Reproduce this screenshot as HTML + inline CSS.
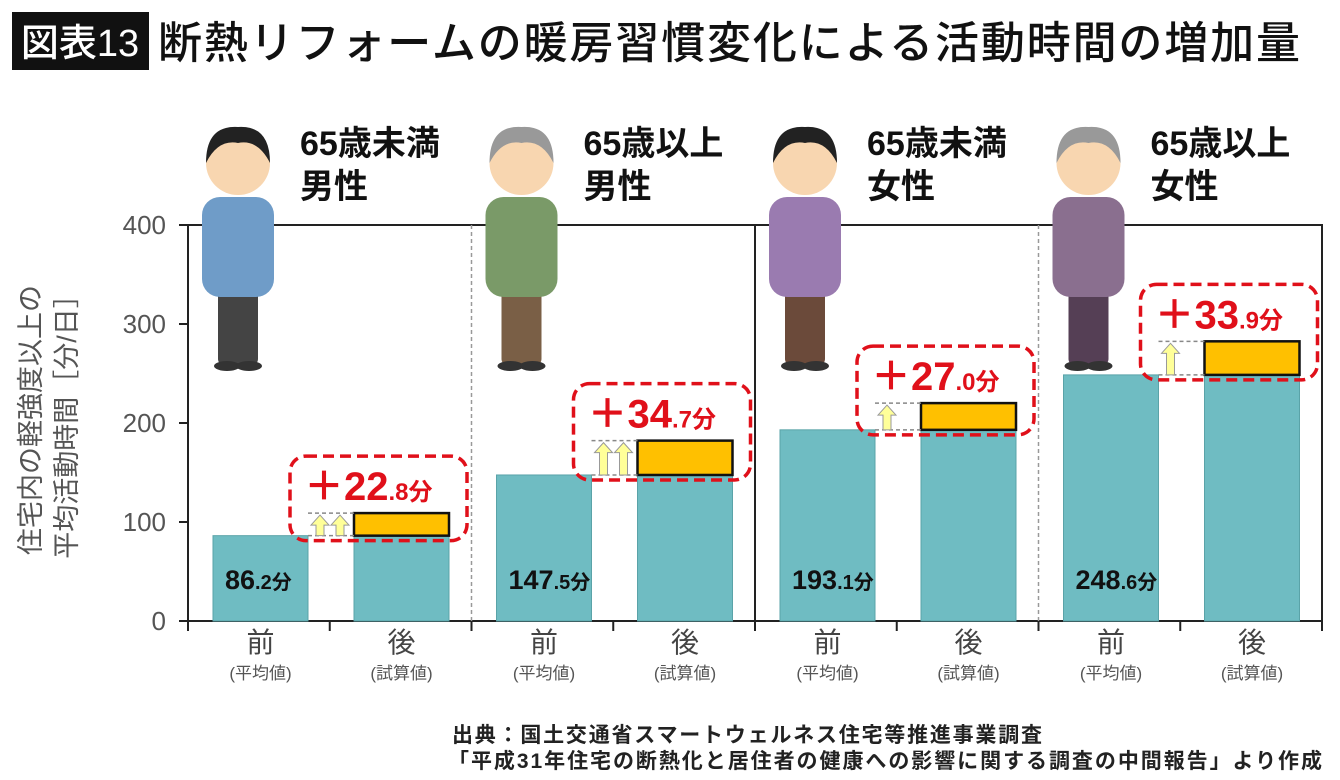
<!DOCTYPE html>
<html><head><meta charset="utf-8">
<style>
body{margin:0;background:#fff;}
svg{display:block;font-family:"Liberation Sans","Noto Sans CJK JP",sans-serif;}
</style></head><body>
<svg id="c" width="1340" height="780" viewBox="0 0 1340 780">
<rect x="12" y="12" width="137" height="58" fill="#111"/>
<text x="80" y="56" font-size="38" fill="#fff" text-anchor="middle" font-weight="500">図表13</text>
<text x="158" y="58" font-size="44" fill="#111" font-weight="500" textLength="1142" lengthAdjust="spacing">断熱リフォームの暖房習慣変化による活動時間の増加量</text>
<g id="ylab">
<text transform="translate(40,420) rotate(-90)" font-size="27" fill="#555" text-anchor="middle">住宅内の軽強度以上の</text>
<text transform="translate(76,420) rotate(-90)" font-size="27" fill="#555" text-anchor="middle">平均活動時間［分/日］</text>
</g>
<g id="marks"></g>
<text x="452" y="742" font-size="21" font-weight="bold" fill="#222" textLength="590" lengthAdjust="spacing">出典：国土交通省スマートウェルネス住宅等推進事業調査</text>
<text x="448" y="768" font-size="21" font-weight="bold" fill="#222" textLength="874" lengthAdjust="spacing">「平成31年住宅の断熱化と居住者の健康への影響に関する調査の中間報告」より作成</text>
</svg>
<script>
const groups=['65歳未満|男性','65歳以上|男性','65歳未満|女性','65歳以上|女性'];
const beforeVals=[86.2,147.5,193.1,248.6];
const increaseVals=[22.8,34.7,27.0,33.9];
const yTicks=[0,100,200,300,400];
const arrowCounts=[2,2,1,1];
const personColors=[['#6f9cc8','#444','#222'],['#7a9a68','#7a5f46','#999'],['#9a7bb0','#6b4a3a','#222'],['#8a6f8f','#553f55','#999']];

const NS='http://www.w3.org/2000/svg';
const X0=188,X1=1322,Y0=621,YT=225;
const y=v=>Y0-(v/400)*(Y0-YT);
const gw=(X1-X0)/groups.length;
const g=document.getElementById('marks');
function el(t,a,p){const e=document.createElementNS(NS,t);for(const k in a)e.setAttribute(k,a[k]);(p||g).appendChild(e);return e;}

let fr=el('rect',{x:X0,y:YT,width:X1-X0,height:Y0-YT,fill:'none',stroke:'#222','stroke-width':2});


yTicks.forEach(t=>{
  let tk=el('line',{x1:X0-9,x2:X0,y1:y(t),y2:y(t),stroke:'#222','stroke-width':2});
  
  
  let tl=el('text',{x:X0-22,y:y(t)+9,'font-size':26,fill:'#555','text-anchor':'end'});
  tl.textContent=t;
  
  
});

groups.forEach((name,i)=>{
  const gx=X0+gw*i;
  if(i>0){
    let d=el('line',{x1:gx,x2:gx,y1:YT,y2:Y0,stroke:i==2?'#222':'#999','stroke-width':i==2?2:1.5,'stroke-dasharray':i==2?'':'4 3'});
    
    
  }
  [gx, gx+gw/2, gx+gw].forEach(tx=>{
    let t=el('line',{x1:tx,x2:tx,y1:Y0,y2:Y0+10,stroke:'#222','stroke-width':2});
    
    
  });
  const bx1=gx+25,bx2=gx+166,bw=95;
  const b=beforeVals[i],inc=increaseVals[i];
  let r1=el('rect',{x:bx1,y:y(b),width:bw,height:Y0-y(b),fill:'#6fbcc2',stroke:'#5aa3a8'});
  
  
  let r2=el('rect',{x:bx2,y:y(b),width:bw,height:Y0-y(b),fill:'#6fbcc2',stroke:'#5aa3a8'});
  
  
  let o=el('rect',{x:bx2,y:y(b+inc),width:bw,height:y(b)-y(b+inc),fill:'#ffc000',stroke:'#111','stroke-width':2.5});
  
  
  [b,b+inc].forEach(v=>{
    let l=el('line',{x1:bx1+bw,x2:bx2,y1:y(v),y2:y(v),stroke:'#888','stroke-width':1.5,'stroke-dasharray':'4 3'});
    
    
  });
  const n=arrowCounts[i];
  for(let k=0;k<n;k++){
    const ax=bx1+bw+12+k*20, top=y(b+inc)+2, bot=y(b);
    let a=el('path',{d:`M${ax} ${top} L${ax+9} ${top+10} L${ax+4} ${top+10} L${ax+4} ${bot} L${ax-4} ${bot} L${ax-4} ${top+10} L${ax-9} ${top+10} Z`,fill:'#ffff99',stroke:'#999','stroke-width':1});
    
    
  }
  const ct=y(b+inc)-57, cb=y(b)+5;
  let c=el('rect',{x:bx2-64,y:ct,width:bw+82,height:cb-ct,rx:16,fill:'none',stroke:'#e0101a','stroke-width':3.5,'stroke-dasharray':'11 6'});
  
  
  const parts=inc.toFixed(1).split('.');
  let ct1=el('text',{x:bx2-50,y:ct+44,fill:'#e0101a','font-weight':'bold'});
  
  
  let s1=el('tspan',{'font-size':40},ct1);s1.textContent='＋'+parts[0];
  let s2=el('tspan',{'font-size':24},ct1);s2.textContent='.'+parts[1]+'分';
  const bp=b.toFixed(1).split('.');
  let vl=el('text',{x:bx1+12,y:y(0)-32,fill:'#111','font-weight':'bold'});
  
  
  let v1=el('tspan',{'font-size':27},vl);v1.textContent=bp[0];
  let v2=el('tspan',{'font-size':20},vl);v2.textContent='.'+bp[1]+'分';
  [[bx1+bw/2,'前','(平均値)'],[bx2+bw/2,'後','(試算値)']].forEach(([cx,a1,a2])=>{
    let t1=el('text',{x:cx,y:652,'font-size':28,fill:'#444','text-anchor':'middle'});t1.textContent=a1;
    
    
    let t2=el('text',{x:cx,y:679,'font-size':17,fill:'#555','text-anchor':'middle'});t2.textContent=a2;
    
    
  });
  const nm=name.split('|');
  nm.forEach((s,k)=>{
    let t=el('text',{x:gx+112,y:155+k*43,'font-size':34,'font-weight':'bold',fill:'#111'});t.textContent=s;
    
    
  });
  const pc=personColors[i], px=gx+50, pt=125;
  const pg=el('g',{});
  
  
  el('rect',{x:px-20,y:pt+145,width:40,height:95,rx:6,fill:pc[1]},pg);
  el('rect',{x:px-36,y:pt+72,width:72,height:100,rx:18,fill:pc[0]},pg);
  el('circle',{cx:px,cy:pt+38,r:32,fill:'#f8d6b0'},pg);
  el('path',{d:`M${px-32} ${pt+38} Q${px-32} ${pt} ${px} ${pt+2} Q${px+32} ${pt} ${px+32} ${pt+38} Q${px+20} ${pt+14} ${px} ${pt+18} Q${px-20} ${pt+14} ${px-32} ${pt+38}Z`,fill:pc[2]},pg);
  el('ellipse',{cx:px-11,cy:pt+241,rx:13,ry:5,fill:'#333'},pg);
  el('ellipse',{cx:px+11,cy:pt+241,rx:13,ry:5,fill:'#333'},pg);
});
</script>
</body></html>
